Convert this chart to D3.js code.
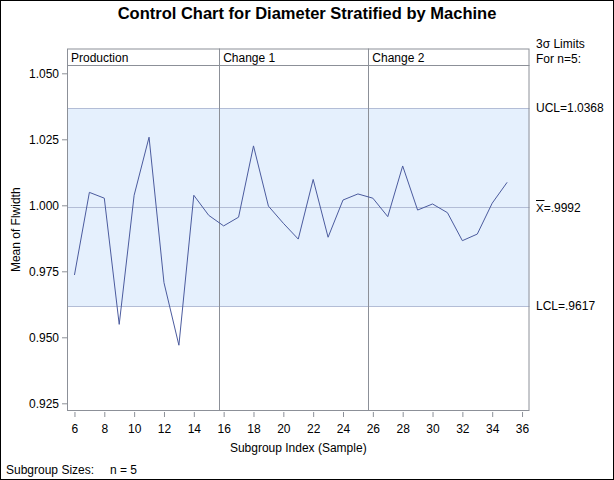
<!DOCTYPE html>
<html><head><meta charset="utf-8">
<script src="https://cdn.jsdelivr.net/npm/d3@7"></script>
<style>
html,body{margin:0;padding:0;background:#fff;}
svg{display:block;font-family:"Liberation Sans",Arial,sans-serif;}
</style></head>
<body>
<script>
const subgroups = [6,7,8,9,10,11,12,13,14,15,16,17,18,19,20,21,22,23,24,25,26,27,28,29,30,31,32,33,34,35];
const means = [0.9736,1.0049,1.0027,0.9549,1.0038,1.0258,0.9707,0.9470,1.0038,0.9962,
               0.9922,0.9955,1.0225,0.9997,0.9932,0.9872,1.0098,0.9879,1.0020,1.0043,
               1.0027,0.9957,1.0149,0.9982,1.0005,0.9972,0.9866,0.9891,1.0008,1.0087];
const phases = ["Production","Change 1","Change 2"];
const phaseStarts = [5.5,15.7,25.7];
const limits = {ucl:1.0368, center:0.9992, lcl:0.9617};
const limitLabels = ["UCL=1.0368","=.9992","LCL=.9617"];
const yTicks = [0.925,0.950,0.975,1.000,1.025,1.050];
const xTicks = [6,8,10,12,14,16,18,20,22,24,26,28,30,32,34,36];

const W=614,H=480;
const L=67,R=529.5,T=48.5,B=411;
const svg=d3.select("body").append("svg").attr("width",W).attr("height",H);
svg.append("rect").attr("x",0.5).attr("y",0.5).attr("width",W-1).attr("height",H-1).attr("fill","#fff").attr("stroke","#000");

const x=d3.scaleLinear().domain([5.5,36.5]).range([L,R]);
const y=d3.scaleLinear().domain([0.925,1.050]).range([403.3,73.3]);

// band
svg.append("rect").attr("x",L).attr("width",R-L).attr("y",y(limits.ucl)).attr("height",y(limits.lcl)-y(limits.ucl)).attr("fill","#e5f0fd");
[limits.ucl,limits.center,limits.lcl].forEach(v=>{
  svg.append("line").attr("x1",L).attr("x2",R).attr("y1",Math.round(y(v))+0.5).attr("y2",Math.round(y(v))+0.5).attr("stroke","#b3bdd6");
});
// phase dividers
phaseStarts.slice(1).forEach(p=>{
  svg.append("line").attr("x1",Math.round(x(p))+0.5).attr("x2",Math.round(x(p))+0.5).attr("y1",T).attr("y2",B).attr("stroke","#8c9098");
});
// phase band line
svg.append("line").attr("x1",L).attr("x2",R).attr("y1",65.5).attr("y2",65.5).attr("stroke","#8c9098");
phases.forEach((p,i)=>{
  svg.append("text").attr("x",x(phaseStarts[i])+4).attr("y",62).attr("font-size",12).attr("fill","#000").text(p);
});
// data line
svg.append("path").datum(subgroups.map((s,i)=>[s,means[i]]))
  .attr("d",d3.line().x(d=>x(d[0])).y(d=>y(d[1])))
  .attr("fill","none").attr("stroke","#4b5b9e").attr("stroke-width",1);
// frame
svg.append("rect").attr("x",L+0.5).attr("y",T+0.5).attr("width",R-L-1).attr("height",B-T-1).attr("fill","none").attr("stroke","#8c9098");

// axes
const ya=svg.append("g").attr("transform",`translate(${L},0)`)
  .call(d3.axisLeft(y).tickValues(yTicks).tickFormat(d3.format(".3f")).tickSize(5).tickSizeOuter(0));
const xa=svg.append("g").attr("transform",`translate(0,${B+1})`)
  .call(d3.axisBottom(x).tickValues(xTicks).tickFormat(d3.format("d")).tickSize(5).tickSizeOuter(0));
[ya,xa].forEach(g=>{
  g.select(".domain").remove();
  g.selectAll(".tick line").attr("stroke","#8c9098");
  g.selectAll(".tick text").attr("font-size",12).attr("fill","#000").attr("font-family","Liberation Sans, Arial, sans-serif");
});
xa.selectAll(".tick text").attr("dy","1.05em");

// titles
svg.append("text").attr("x",307).attr("y",19).attr("text-anchor","middle").attr("font-size",16.5).attr("font-weight","bold").text("Control Chart for Diameter Stratified by Machine");
svg.append("text").attr("x",(L+R)/2).attr("y",452).attr("text-anchor","middle").attr("font-size",12).text("Subgroup Index (Sample)");
svg.append("text").attr("transform",`translate(20,${(T+B)/2}) rotate(-90)`).attr("text-anchor","middle").attr("font-size",12).text("Mean of Flwidth");
svg.append("text").attr("x",6).attr("y",474).attr("font-size",12).text("Subgroup Sizes:");
svg.append("text").attr("x",110).attr("y",474).attr("font-size",12).text("n = 5");

// right labels
const lx=536;
svg.append("text").attr("x",lx).attr("y",48).attr("font-size",12).text("3σ Limits");
svg.append("text").attr("x",lx).attr("y",63).attr("font-size",12).text("For n=5:");
svg.append("text").attr("x",lx).attr("y",y(limits.ucl)+4).attr("font-size",12).text(limitLabels[0]);
const xb=svg.append("text").attr("x",lx).attr("y",y(limits.center)+4.5).attr("font-size",11.5);
xb.append("tspan").text("X");
xb.append("tspan").attr("font-size",12).text(limitLabels[1]);
svg.append("line").attr("x1",lx).attr("x2",lx+8.5).attr("y1",Math.round(y(limits.center)-7)+0.5).attr("y2",Math.round(y(limits.center)-7)+0.5).attr("stroke","#000");
svg.append("text").attr("x",lx).attr("y",y(limits.lcl)+4).attr("font-size",12).text(limitLabels[2]);
</script>
</body></html>
